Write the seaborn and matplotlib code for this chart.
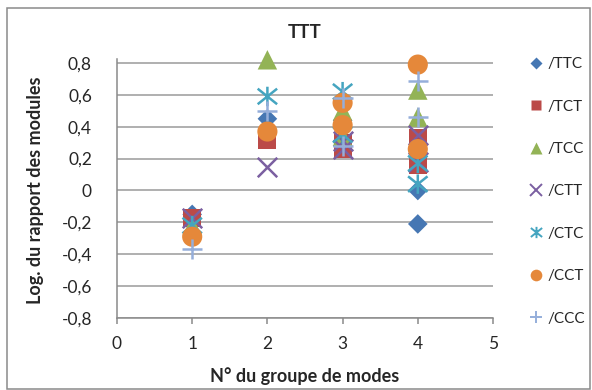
import numpy as np
import pandas as pd
import matplotlib
matplotlib.use("Agg")
import matplotlib.pyplot as plt
from matplotlib.path import Path
from matplotlib.lines import Line2D
from matplotlib.patches import Rectangle
from matplotlib.ticker import FuncFormatter
import seaborn as sns

# ---- data ----
groups = [1, 2, 3, 3, 4, 4]
series_names = ["/TTC", "/TCT", "/TCC", "/CTT", "/CTC", "/CCT", "/CCC"]
TTC = [-0.15, 0.45, 0.44, 0.28, 0.00, -0.21]
TCT = [-0.17, 0.32, 0.30, 0.26, 0.33, 0.16]
TCC = [-0.22, 0.82, 0.50, 0.34, 0.63, 0.46]
CTT = [-0.17, 0.15, 0.31, 0.26, 0.35, 0.18]
CTC = [-0.22, 0.59, 0.62, 0.35, 0.17, 0.04]
CCT = [-0.29, 0.37, 0.55, 0.41, 0.79, 0.26]
CCC = [-0.37, 0.50, 0.58, 0.28, 0.69, 0.46]
values = [TTC, TCT, TCC, CTT, CTC, CCT, CCC]
x_ticks = [0, 1, 2, 3, 4, 5]
y_ticks = [-0.8, -0.6, -0.4, -0.2, 0, 0.2, 0.4, 0.6, 0.8]
title = "TTT"
xlabel = "N° du groupe de modes"
ylabel = "Log. du rapport des modules"

# ---- style ----
sns.set_theme(style="white")
plt.rcParams["font.family"] = ["Lato", "DejaVu Sans"]

asterisk = Path(
    [(-1, -0.8), (1, 0.8), (-1, 0.8), (1, -0.8), (0, -1), (0, 1)],
    [Path.MOVETO, Path.LINETO, Path.MOVETO, Path.LINETO, Path.MOVETO, Path.LINETO],
)
colors = ["#4677B3", "#BB4A48", "#93B356", "#7B5FA1", "#45A5C0", "#E5883A", "#95AEDA"]
markers = ["D", "s", "^", "x", asterisk, "o", "+"]
sizes = [10, 13, 14, 14, 14, 14.5, 14]
kinds = ["fill", "fill", "fill", "line", "path", "fill", "line"]

df = pd.DataFrame({
    "groupe": np.tile(groups, len(series_names)),
    "valeur": np.concatenate(values),
    "serie": np.repeat(series_names, len(groups)),
})

fig = plt.figure(figsize=(5.92, 3.90), dpi=100)
ax = fig.add_axes([117 / 592, 1 - 318 / 390, (493 - 117) / 592, (318 - 59) / 390])

for name, c, m, ms, k in zip(series_names, colors, markers, sizes, kinds):
    sub = df[df["serie"] == name]
    common = dict(data=sub, x="groupe", y="valeur", marker=m, s=ms ** 2, ax=ax,
                  clip_on=False, zorder=3, legend=False)
    if k == "fill":
        sns.scatterplot(color=c, edgecolor="none", linewidth=0, **common)
    elif k == "line":
        sns.scatterplot(color=c, linewidth=1.8, **common)
    else:
        sns.scatterplot(facecolor="none", edgecolor=c, linewidth=1.8, **common)

ax.set_xlim(0, 5)
ax.set_ylim(-0.8, 0.825)
ax.set_xticks(x_ticks)
ax.set_yticks(y_ticks)


def fmt(v, pos):
    if abs(v) < 1e-9:
        return "0"
    return f"{v:.1f}".replace(".", ",")


ax.yaxis.set_major_formatter(FuncFormatter(fmt))
ax.yaxis.grid(True, color="#9a9a9a", linewidth=1.1)
ax.set_axisbelow(True)
for s in ["top", "right"]:
    ax.spines[s].set_visible(False)
for s in ["left", "bottom"]:
    ax.spines[s].set_color("#8a8a8a")
    ax.spines[s].set_linewidth(1.1)
ax.tick_params(axis="x", direction="out", length=4, width=1.1, color="#8a8a8a",
               labelsize=12.5, pad=9, bottom=True)
ax.tick_params(axis="y", length=0, labelsize=12.5, pad=18)
ax.set_xlabel(xlabel, fontsize=13, fontweight="bold")
ax.set_ylabel(ylabel, fontsize=13, fontweight="bold")
ax.xaxis.set_label_coords(0.5, -(376 - 318) / 259, transform=ax.transAxes)
ax.xaxis.label.set_va("center")
ax.yaxis.set_label_coords(-(117 - 35) / 376, (318 - 190) / 259, transform=ax.transAxes)
ax.yaxis.label.set_va("center")
ax.set_title(title, fontsize=13.5, fontweight="bold", pad=15)

handles = []
for name, c, m, ms, k in zip(series_names, colors, markers, sizes, kinds):
    if k == "fill":
        h = Line2D([], [], linestyle="none", marker=m, markersize=ms * 0.58,
                   markerfacecolor=c, markeredgecolor="none")
    else:
        h = Line2D([], [], linestyle="none", marker=m, markersize=ms * 0.58,
                   markerfacecolor="none", markeredgecolor=c, markeredgewidth=1.4)
    handles.append(h)
fig.legend(handles, series_names, loc="upper left",
           bbox_to_anchor=(522 / 592, 1 - 51 / 390), frameon=False,
           fontsize=11, handlelength=1.0, handletextpad=0.3,
           labelspacing=1.86, borderaxespad=0)

fig.patches.append(Rectangle((7 / 592, 1 / 390), 583 / 592, 381 / 390,
                             transform=fig.transFigure, fill=False,
                             edgecolor="#8a8a8a", linewidth=1.1))

fig.savefig("out.png", dpi=100)
